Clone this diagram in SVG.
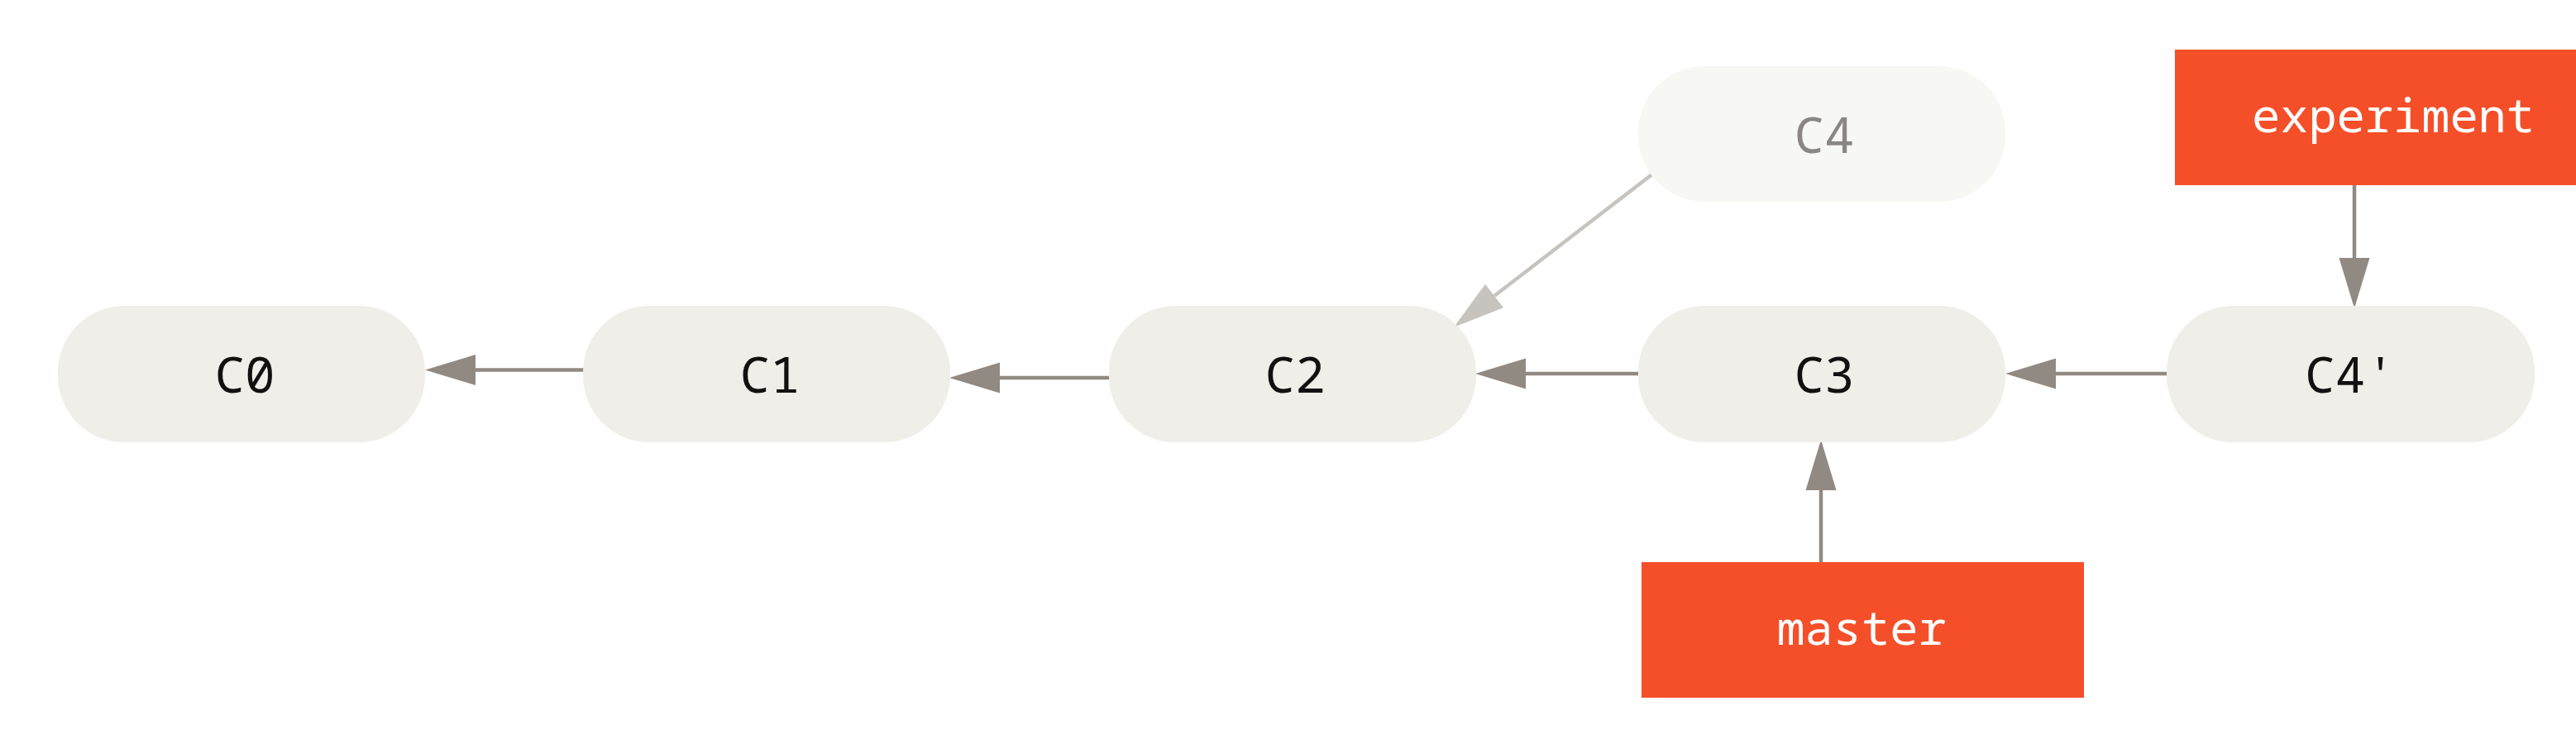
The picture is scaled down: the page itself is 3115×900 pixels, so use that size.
<svg xmlns="http://www.w3.org/2000/svg" width="3115" height="900" viewBox="0 0 3115 900">
<style>
.node{fill:#efeee8}
.ghost{fill:#f7f7f3}
.lbl{fill:#f54f29}
.t{font-family:"Noto Sans Mono","DejaVu Sans Mono",monospace;font-size:61px;text-anchor:middle;fill:#111111}
.tg{fill:#8a8782}
.tl{font-family:"Noto Sans Mono","DejaVu Sans Mono",monospace;font-size:57px;text-anchor:middle;fill:#ffffff}
.e{stroke:#918a82;stroke-width:4.5;fill:none;marker-end:url(#ah)}
.eg{stroke:#c7c4bf;stroke-width:4.5;fill:none;marker-end:url(#ahg)}
</style>
<defs>
<marker id="ah" markerUnits="userSpaceOnUse" markerWidth="62" markerHeight="38" refX="0" refY="18.5" orient="auto" overflow="visible">
<path d="M0,0 L61,18.5 L0,37 z" fill="#918a82"/>
</marker>
<marker id="ahg" markerUnits="userSpaceOnUse" markerWidth="62" markerHeight="38" refX="0" refY="18" orient="auto" overflow="visible">
<path d="M0,0 L62,18 L0,36 z" fill="#c7c4bf"/>
</marker>
</defs>
<rect width="3115" height="900" fill="#ffffff"/>
<g id="connectors">
<line class="e" x1="706" y1="447.5" x2="575" y2="447.5"/>
<line class="e" x1="1342" y1="457" x2="1209" y2="457"/>
<line class="e" x1="1982" y1="452" x2="1845" y2="452"/>
<line class="e" x1="2621" y1="452" x2="2486" y2="452"/>
<line class="e" x1="2847" y1="224" x2="2847" y2="312"/>
<line class="e" x1="2202" y1="681" x2="2202" y2="593"/>
<line class="eg" x1="1997" y1="211.5" x2="1807" y2="358"/>
</g>
<g id="C0"><rect class="node" x="70" y="370" width="444" height="165" rx="80" ry="80"/><text class="t" x="296" y="475">C0</text></g>
<g id="C1"><rect class="node" x="705" y="370" width="444" height="165" rx="80" ry="80"/><text class="t" x="931" y="475">C1</text></g>
<g id="C2"><rect class="node" x="1341" y="370" width="444" height="165" rx="80" ry="80"/><text class="t" x="1566" y="475">C2</text></g>
<g id="C3"><rect class="node" x="1981" y="370" width="444" height="165" rx="80" ry="80"/><text class="t" x="2206" y="475">C3</text></g>
<g id="C4p"><rect class="node" x="2620" y="370" width="445" height="165" rx="80" ry="80"/><text class="t" x="2842" y="475">C4'</text></g>
<g id="C4"><rect class="ghost" x="1981" y="80" width="444" height="164" rx="80" ry="80"/><text class="t tg" x="2206" y="185">C4</text></g>
<g id="experiment"><rect class="lbl" x="2630" y="60" width="535" height="164"/><text class="tl" x="2894" y="160">experiment</text></g>
<g id="master"><rect class="lbl" x="1985" y="680" width="535" height="164"/><text class="tl" x="2251" y="780">master</text></g>
</svg>
